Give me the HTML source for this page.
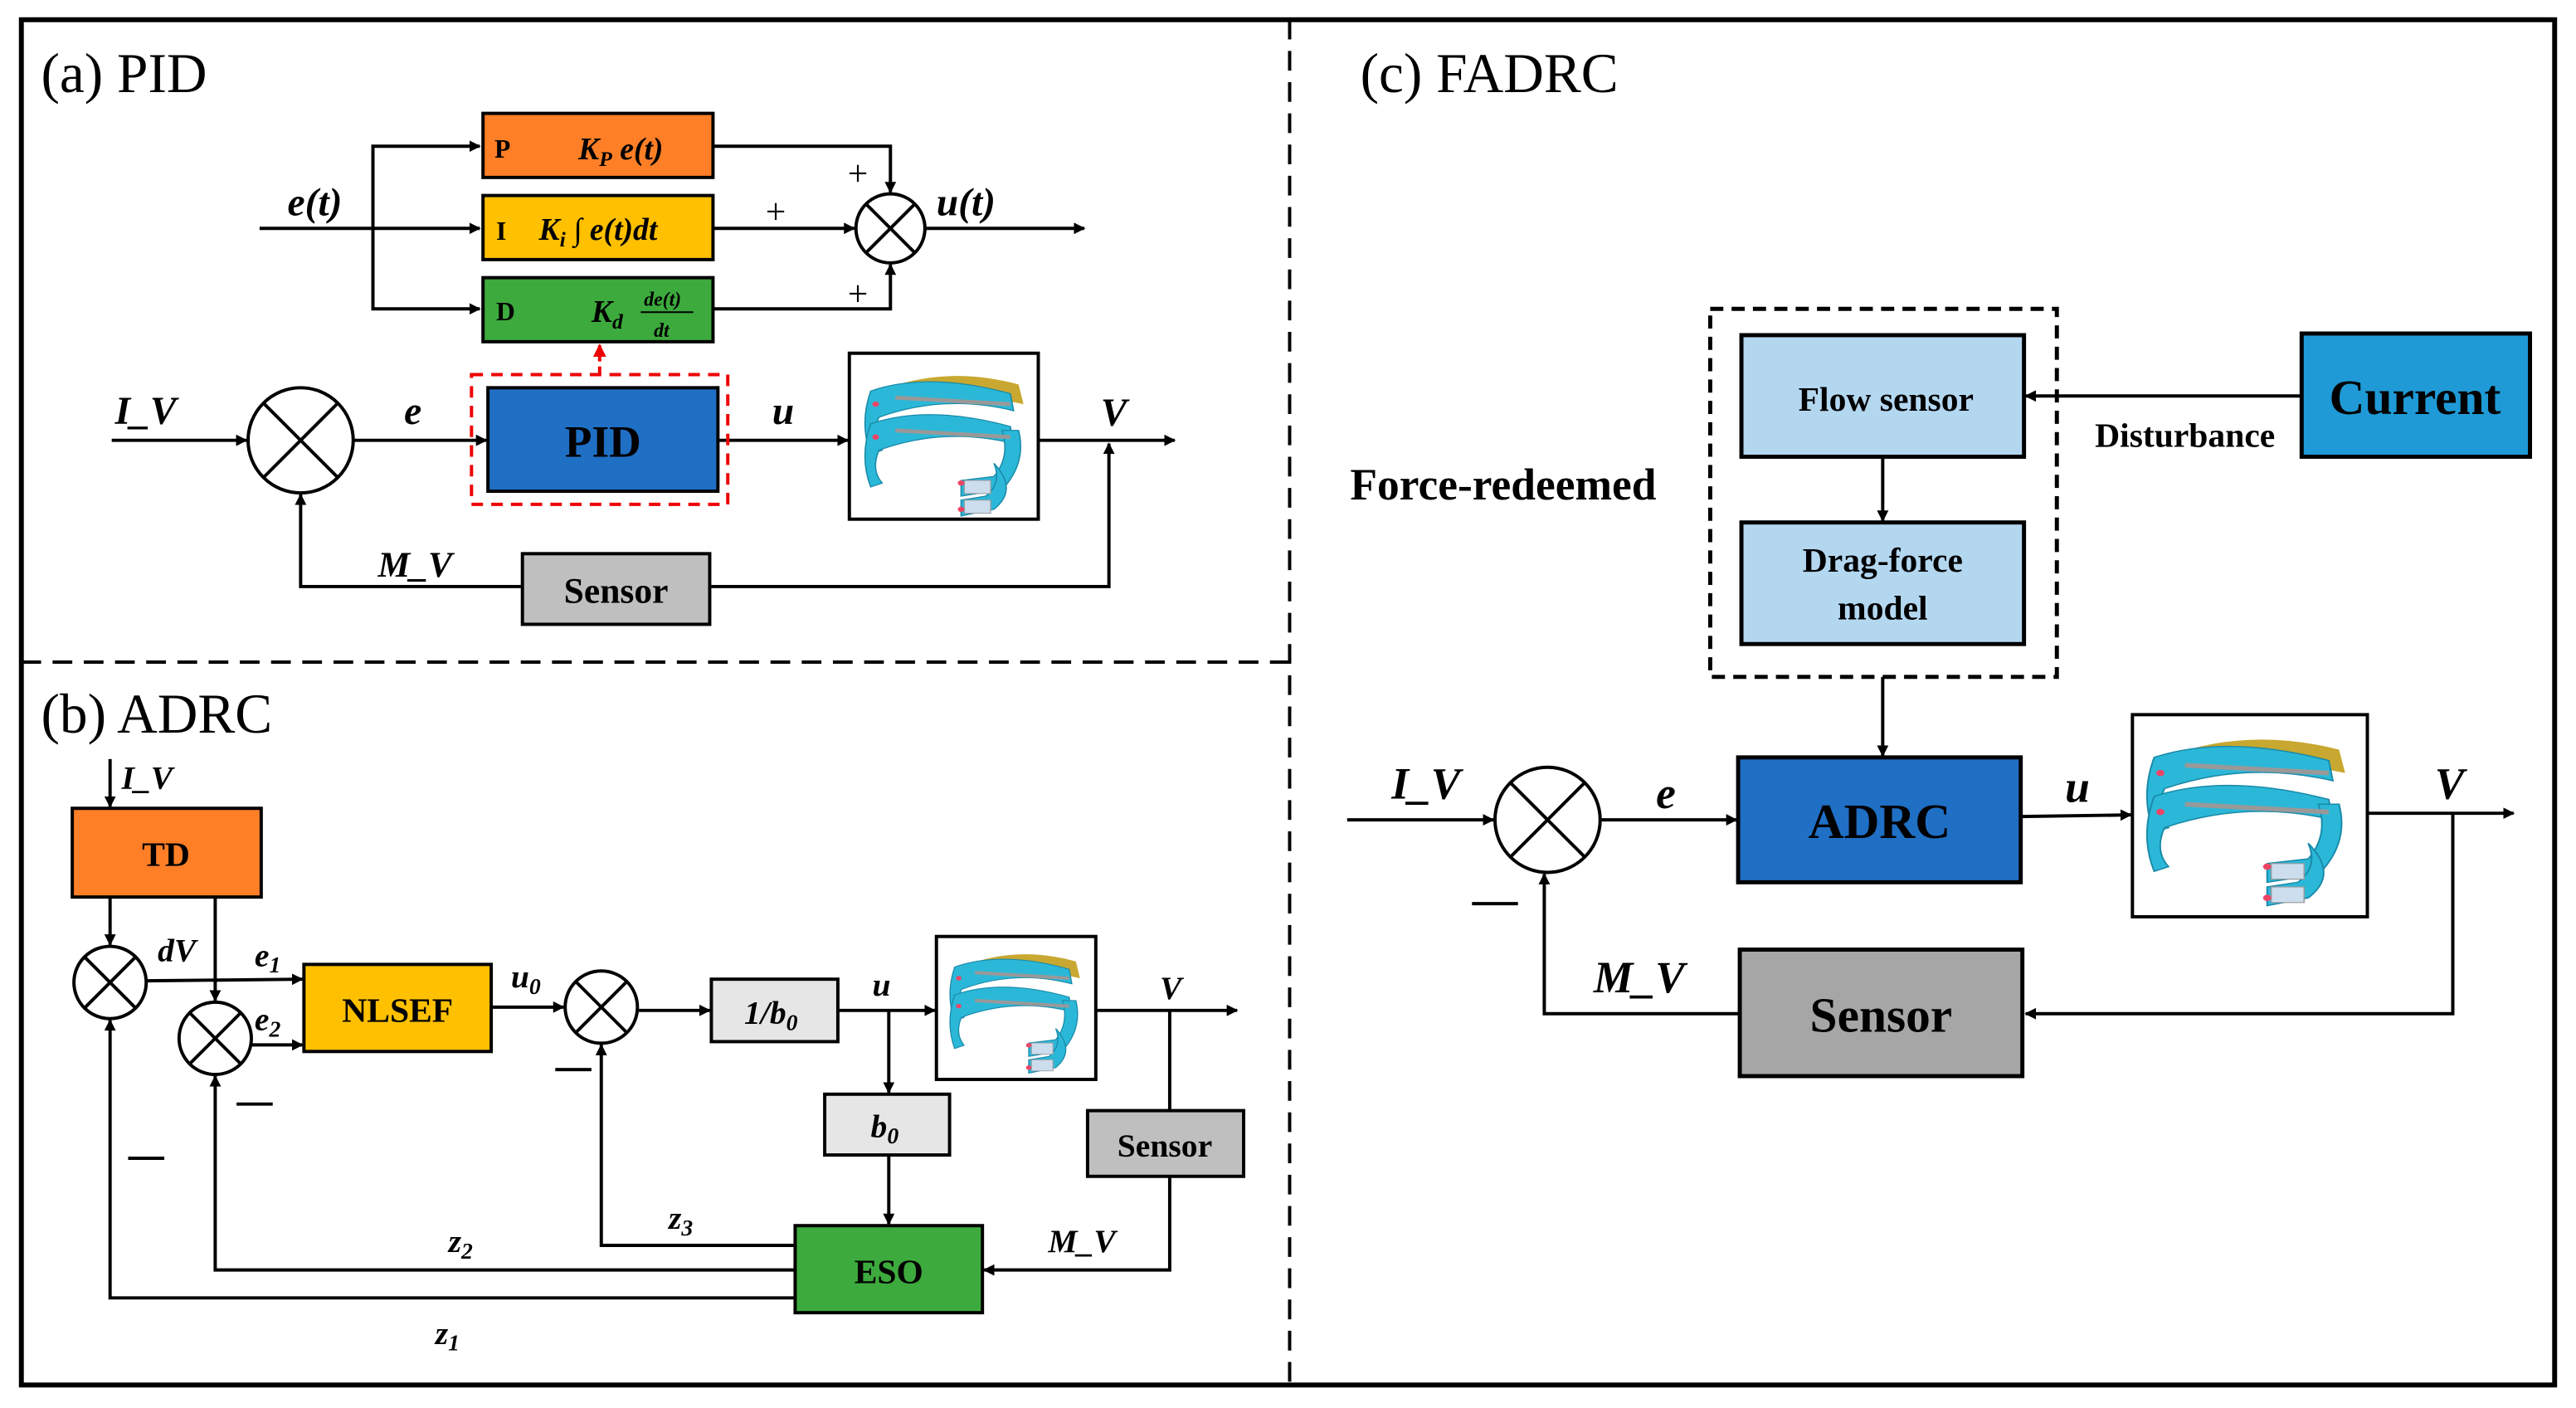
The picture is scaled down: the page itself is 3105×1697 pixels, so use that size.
<!DOCTYPE html>
<html><head><meta charset="utf-8"><style>
html,body{margin:0;padding:0;background:#fff}
svg{display:block}
svg, svg text{font-family:"Liberation Serif","DejaVu Serif",serif}
.b{font-weight:bold}
.i{font-style:italic;font-weight:bold}
</style></head><body>
<svg width="3105" height="1697" viewBox="0 0 1568 857" preserveAspectRatio="none" xmlns="http://www.w3.org/2000/svg" font-family="Liberation Serif, DejaVu Serif, serif">
<defs>
<marker id="a" viewBox="0 0 10 10" refX="9" refY="5" markerWidth="7" markerHeight="7" orient="auto-start-reverse" markerUnits="userSpaceOnUse"><path d="M0,0L10,5L0,10z" fill="#000"/></marker>
<marker id="ar" viewBox="0 0 10 10" refX="9" refY="5" markerWidth="8" markerHeight="8" orient="auto" markerUnits="userSpaceOnUse"><path d="M0,0L10,5L0,10z" fill="#e00"/></marker>
<g id="robot">
<path d="M10,20 Q50,0 95,15 L98,30 Q55,18 18,35 Z" fill="#c8a830"/>
<path d="M5,20 Q40,5 90,22 L92,35 Q50,22 10,40 Q5,55 12,65 L5,68 Q-2,45 5,20Z" fill="#2bb8d8" stroke="#1a8aa8" stroke-width="0.8"/>
<path d="M5,45 Q40,30 90,47 L92,60 Q50,47 10,65 Q5,80 12,90 L5,93 Q-2,70 5,45Z" fill="#2bb8d8" stroke="#1a8aa8" stroke-width="0.8"/>
<path d="M85,50 L95,50 Q100,75 85,95 L60,100 L60,88 L80,85 Q90,70 85,50Z" fill="#2bb8d8" stroke="#1a8aa8" stroke-width="0.8"/>
<path d="M80,75 Q95,95 80,110 L60,115 L60,103 L75,100 Q85,90 80,75Z" fill="#2bb8d8" stroke="#1a8aa8" stroke-width="0.8"/>
<rect x="62" y="88" width="16" height="10" fill="#cde" stroke="#999" stroke-width="0.6"/>
<rect x="62" y="103" width="16" height="10" fill="#cde" stroke="#999" stroke-width="0.6"/>
<path d="M20,25 L90,30 M20,50 L90,55" stroke="#999" stroke-width="3"/>
<circle cx="8" cy="30" r="2" fill="#e46"/><circle cx="8" cy="55" r="2" fill="#e46"/><circle cx="60" cy="90" r="2" fill="#e46"/><circle cx="60" cy="110" r="2" fill="#e46"/>
</g>
</defs>

<rect x="13" y="12" width="1542" height="831" fill="none" stroke="#000" stroke-width="3"/>
<line x1="785" y1="12" x2="785" y2="843" stroke="#000" stroke-width="2" stroke-dasharray="12,7"/>
<line x1="13" y1="403" x2="785" y2="403" stroke="#000" stroke-width="2" stroke-dasharray="12,7"/>

<g stroke="#000" stroke-width="2" fill="none">
<line x1="158" y1="139" x2="292" y2="139" marker-end="url(#a)"/>
<polyline points="292,89 227,89 227,188 292,188" marker-end="url(#a)" marker-start="url(#a)"/>
<polyline points="434,89 542,89 542,117" marker-end="url(#a)"/>
<polyline points="434,188 542,188 542,161" marker-end="url(#a)"/>
<line x1="434" y1="139" x2="520" y2="139" marker-end="url(#a)"/>
<line x1="563" y1="139" x2="660" y2="139" marker-end="url(#a)"/>
<circle cx="542" cy="139" r="21" fill="#fff"/>
<line x1="527" y1="124" x2="557" y2="154"/><line x1="557" y1="124" x2="527" y2="154"/>
<line x1="68" y1="268" x2="150" y2="268" marker-end="url(#a)"/>
<circle cx="183" cy="268" r="32" fill="#fff"/>
<line x1="160" y1="245" x2="206" y2="291"/><line x1="206" y1="245" x2="160" y2="291"/>
<line x1="215" y1="268" x2="296" y2="268" marker-end="url(#a)"/>
<line x1="437" y1="268" x2="516" y2="268" marker-end="url(#a)"/>
<line x1="632" y1="268" x2="715" y2="268" marker-end="url(#a)"/>
<polyline points="432,357 675,357 675,270" marker-end="url(#a)"/>
<polyline points="318,357 183,357 183,301" marker-end="url(#a)"/>
</g>
<rect x="294" y="69" width="140" height="39" fill="#ff7f27" stroke="#000" stroke-width="2"/>
<rect x="294" y="119" width="140" height="39" fill="#ffc000" stroke="#000" stroke-width="2"/>
<rect x="294" y="169" width="140" height="39" fill="#3daa3d" stroke="#000" stroke-width="2"/>
<rect x="297" y="236" width="140" height="63" fill="#1f6fc5" stroke="#000" stroke-width="2"/>
<rect x="287" y="228" width="156" height="79" fill="none" stroke="#e00" stroke-width="2" stroke-dasharray="7,5"/>
<line x1="365" y1="228" x2="365" y2="210" stroke="#e00" stroke-width="2" stroke-dasharray="5,3" marker-end="url(#ar)"/>
<rect x="517" y="215" width="115" height="101" fill="#fff" stroke="#000" stroke-width="2"/>
<use href="#robot" transform="translate(525,222) scale(1.0,0.8)"/>
<rect x="318" y="337" width="114" height="43" fill="#bfbfbf" stroke="#000" stroke-width="2"/>

<text x="25" y="56" font-size="34">(a) PID</text>
<text x="301" y="96" font-size="16" class="b">P</text>
<text x="352" y="97" font-size="19" class="i">K<tspan font-size="13" dy="4">P</tspan><tspan dy="-4"> e(t)</tspan></text>
<text x="302" y="146" font-size="16" class="b">I</text>
<text x="328" y="146" font-size="19" class="i">K<tspan font-size="13" dy="4">i</tspan><tspan dy="-4"> ∫ e(t)dt</tspan></text>
<text x="302" y="195" font-size="16" class="b">D</text>
<text x="360" y="196" font-size="19" class="i">K<tspan font-size="13" dy="4">d</tspan></text>
<text x="392" y="186" font-size="12" class="i">de(t)</text>
<line x1="390" y1="190" x2="422" y2="190" stroke="#000" stroke-width="1"/>
<text x="398" y="205" font-size="12" class="i">dt</text>
<text x="175" y="131" font-size="24" class="i">e(t)</text>
<text x="570" y="131" font-size="24" class="i">u(t)</text>
<text x="516" y="113" font-size="22">+</text>
<text x="466" y="136" font-size="22">+</text>
<text x="516" y="186" font-size="22">+</text>
<text x="70" y="258" font-size="24" class="i">I_V</text>
<text x="246" y="258" font-size="24" class="i">e</text>
<text x="470" y="258" font-size="24" class="i">u</text>
<text x="670" y="259" font-size="24" class="i">V</text>
<text x="230" y="351" font-size="22" class="i">M_V</text>
<text x="367" y="278" font-size="27" class="b" text-anchor="middle">PID</text>
<text x="375" y="367" font-size="22" class="b" text-anchor="middle">Sensor</text>

<g stroke="#000" stroke-width="2" fill="none">
<line x1="67" y1="462" x2="67" y2="491" marker-end="url(#a)"/>
<line x1="67" y1="546" x2="67" y2="575" marker-end="url(#a)"/>
<line x1="131" y1="546" x2="131" y2="609" marker-end="url(#a)"/>
<line x1="89" y1="597" x2="184" y2="596" marker-end="url(#a)"/>
<line x1="153" y1="636" x2="184" y2="636" marker-end="url(#a)"/>
<line x1="299" y1="613" x2="343" y2="613" marker-end="url(#a)"/>
<line x1="388" y1="615" x2="432" y2="615" marker-end="url(#a)"/>
<line x1="510" y1="615" x2="569" y2="615" marker-end="url(#a)"/>
<line x1="667" y1="615" x2="753" y2="615" marker-end="url(#a)"/>
<line x1="712" y1="615" x2="712" y2="676"/>
<polyline points="712,716 712,773 599,773" marker-end="url(#a)"/>
<line x1="541" y1="615" x2="541" y2="665" marker-end="url(#a)"/>
<line x1="541" y1="703" x2="541" y2="745" marker-end="url(#a)"/>
<polyline points="484,758 366,758 366,636" marker-end="url(#a)"/>
<polyline points="484,773 131,773 131,655" marker-end="url(#a)"/>
<polyline points="484,790 67,790 67,621" marker-end="url(#a)"/>
<circle cx="67" cy="598" r="22" fill="#fff"/>
<line x1="51" y1="582" x2="83" y2="614"/><line x1="83" y1="582" x2="51" y2="614"/>
<circle cx="131" cy="632" r="22" fill="#fff"/>
<line x1="115" y1="616" x2="147" y2="648"/><line x1="147" y1="616" x2="115" y2="648"/>
<circle cx="366" cy="613" r="22" fill="#fff"/>
<line x1="350" y1="597" x2="382" y2="629"/><line x1="382" y1="597" x2="350" y2="629"/>
<line x1="78" y1="705" x2="100" y2="705"/><line x1="144" y1="672" x2="166" y2="672"/><line x1="338" y1="651" x2="360" y2="651"/>
</g>
<rect x="44" y="492" width="115" height="54" fill="#ff7f27" stroke="#000" stroke-width="2"/>
<rect x="185" y="587" width="114" height="53" fill="#ffc000" stroke="#000" stroke-width="2"/>
<rect x="433" y="596" width="77" height="38" fill="#e6e6e6" stroke="#000" stroke-width="2"/>
<rect x="502" y="666" width="76" height="37" fill="#e6e6e6" stroke="#000" stroke-width="2"/>
<rect x="570" y="570" width="97" height="87" fill="#fff" stroke="#000" stroke-width="2"/>
<use href="#robot" transform="translate(577,575) scale(0.82,0.68)"/>
<rect x="662" y="676" width="95" height="40" fill="#bfbfbf" stroke="#000" stroke-width="2"/>
<rect x="484" y="746" width="114" height="53" fill="#3daa3d" stroke="#000" stroke-width="2"/>

<text x="25" y="446" font-size="34">(b) ADRC</text>
<text x="74" y="480" font-size="20" class="i">I_V</text>
<text x="101" y="527" font-size="21" class="b" text-anchor="middle">TD</text>
<text x="96" y="585" font-size="20" class="i">dV</text>
<text x="155" y="588" font-size="20" class="i">e<tspan font-size="14" dy="4">1</tspan></text>
<text x="155" y="627" font-size="20" class="i">e<tspan font-size="14" dy="4">2</tspan></text>
<text x="242" y="622" font-size="21" class="b" text-anchor="middle">NLSEF</text>
<text x="311" y="601" font-size="20" class="i">u<tspan font-size="14" dy="4">0</tspan></text>
<text x="453" y="623" font-size="20" class="i">1/b<tspan font-size="14" dy="4">0</tspan></text>
<text x="531" y="606" font-size="20" class="i">u</text>
<text x="706" y="608" font-size="20" class="i">V</text>
<text x="530" y="692" font-size="20" class="i">b<tspan font-size="14" dy="4">0</tspan></text>
<text x="709" y="704" font-size="20" class="b" text-anchor="middle">Sensor</text>
<text x="541" y="781" font-size="21" class="b" text-anchor="middle">ESO</text>
<text x="638" y="762" font-size="20" class="i">M_V</text>
<text x="407" y="748" font-size="20" class="i">z<tspan font-size="14" dy="4">3</tspan></text>
<text x="273" y="762" font-size="20" class="i">z<tspan font-size="14" dy="4">2</tspan></text>
<text x="265" y="818" font-size="20" class="i">z<tspan font-size="14" dy="4">1</tspan></text>

<rect x="1041" y="188" width="211" height="224" fill="none" stroke="#000" stroke-width="2.5" stroke-dasharray="8,5"/>
<g stroke="#000" stroke-width="2" fill="none">
<line x1="1146" y1="278" x2="1146" y2="317" marker-end="url(#a)"/>
<line x1="1401" y1="241" x2="1233" y2="241" marker-end="url(#a)"/>
<line x1="1146" y1="412" x2="1146" y2="460" marker-end="url(#a)"/>
<line x1="820" y1="499" x2="909" y2="499" marker-end="url(#a)"/>
<line x1="974" y1="499" x2="1057" y2="499" marker-end="url(#a)"/>
<line x1="1230" y1="497" x2="1297" y2="496" marker-end="url(#a)"/>
<line x1="1441" y1="495" x2="1530" y2="495" marker-end="url(#a)"/>
<polyline points="1493,495 1493,617 1233,617" marker-end="url(#a)"/>
<polyline points="1059,617 940,617 940,532" marker-end="url(#a)"/>
<circle cx="942" cy="499" r="32" fill="#fff"/>
<line x1="919" y1="476" x2="965" y2="522"/><line x1="965" y1="476" x2="919" y2="522"/>
<line x1="896" y1="550" x2="924" y2="550"/>
</g>
<rect x="1060" y="204" width="172" height="74" fill="#b4d7f0" stroke="#000" stroke-width="2.5"/>
<rect x="1060" y="318" width="172" height="74" fill="#b4d7f0" stroke="#000" stroke-width="2.5"/>
<rect x="1401" y="203" width="139" height="75" fill="#1f9ad6" stroke="#000" stroke-width="2.5"/>
<rect x="1058" y="461" width="172" height="76" fill="#1f6fc5" stroke="#000" stroke-width="2.5"/>
<rect x="1298" y="435" width="143" height="123" fill="#fff" stroke="#000" stroke-width="2"/>
<use href="#robot" transform="translate(1305,442) scale(1.25,0.95)"/>
<rect x="1059" y="578" width="172" height="77" fill="#a6a6a6" stroke="#000" stroke-width="2.5"/>

<text x="828" y="56" font-size="34">(c) FADRC</text>
<text x="1148" y="250" font-size="21" class="b" text-anchor="middle">Flow sensor</text>
<text x="1146" y="348" font-size="21" class="b" text-anchor="middle">Drag-force</text>
<text x="1146" y="377" font-size="21" class="b" text-anchor="middle">model</text>
<text x="1470" y="252" font-size="30" class="b" text-anchor="middle">Current</text>
<text x="1330" y="272" font-size="21" class="b" text-anchor="middle">Disturbance</text>
<text x="915" y="304" font-size="27" class="b" text-anchor="middle">Force-redeemed</text>
<text x="1144" y="510" font-size="30" class="b" text-anchor="middle">ADRC</text>
<text x="1145" y="628" font-size="30" class="b" text-anchor="middle">Sensor</text>
<text x="847" y="486" font-size="27" class="i">I_V</text>
<text x="1008" y="492" font-size="27" class="i">e</text>
<text x="1257" y="488" font-size="27" class="i">u</text>
<text x="1482" y="486" font-size="27" class="i">V</text>
<text x="970" y="604" font-size="27" class="i">M_V</text>
</svg>
</body></html>
